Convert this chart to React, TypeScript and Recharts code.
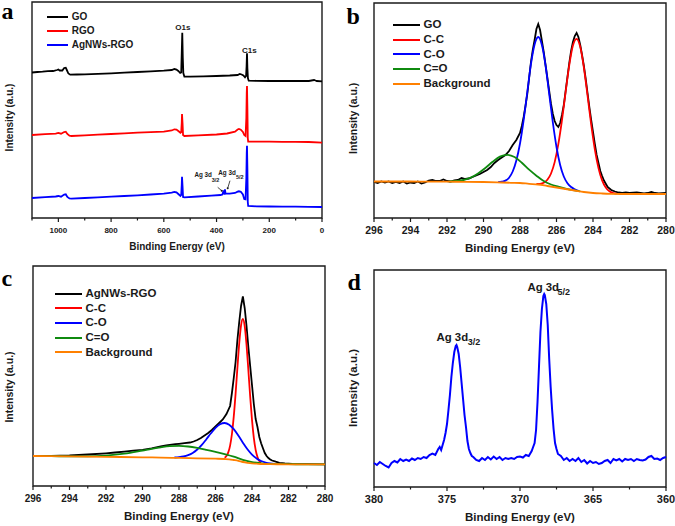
import React from 'react';
import { LineChart, Line, XAxis, YAxis, ReferenceArea, ReferenceDot, Legend } from 'recharts';

const FONT = 'Arial, "Liberation Sans", Helvetica, sans-serif';
const SERIF = '"Times New Roman", "Liberation Serif", serif';
const INK = '#1a1a1a';
const RED = '#ff0000';
const BLUE = '#0000ff';
const GREEN = '#0f8a0f';
const ORANGE = '#ff8000';

// ---- (a) survey spectra: [binding energy, offset intensity]
const surveyGO = [
  [1100, 145.5], [1080, 146], [1060, 146.3], [1040, 146.8], [1020, 147], [1005, 148], [1000, 148.5], [995, 147.5],
  [985, 147.5], [978, 150], [972, 150.3], [968, 148], [962, 144.5], [955, 143.3], [930, 143.5], [900, 143.7],
  [850, 144.2], [800, 144.7], [750, 145.3], [700, 146], [650, 146.6], [600, 147.3], [570, 148], [560, 149],
  [552, 148.5], [545, 147], [538, 145], [534, 145.5], [532, 165], [530, 185.3], [528, 160], [526, 145],
  [522, 141.3], [500, 141.4], [450, 141.7], [400, 142], [350, 142.5], [320, 143], [312, 144], [305, 143.5],
  [298, 142.5], [292, 140.7], [288, 142], [286, 152], [284.5, 164.7], [283, 150], [281, 140], [278, 137.3],
  [250, 137.2], [200, 137], [150, 137], [100, 137], [50, 137], [30, 138], [25, 137.5], [20, 137], [0, 136.7],
];
const surveyRGO = [
  [1100, 83], [1050, 83.8], [1010, 84.3], [1000, 85], [990, 84.3], [978, 86], [972, 86.3], [966, 84],
  [958, 82.3], [950, 82], [900, 82.7], [850, 83.3], [800, 84], [750, 84.7], [700, 85.3], [650, 85.8],
  [600, 86.3], [570, 87.5], [560, 88.7], [552, 88.5], [545, 87], [537, 85.3], [534, 86], [532, 95],
  [531, 104], [529, 95], [527, 83], [522, 82], [470, 82.6], [400, 83.5], [360, 84.5], [330, 86.3],
  [320, 88.5], [315, 89], [308, 88.3], [300, 86], [295, 83], [290, 82], [287, 100], [285.5, 125],
  [284.5, 132], [283, 110], [281.5, 80], [280, 76.3], [250, 76.3], [200, 76.3], [150, 76.2], [100, 76.2],
  [50, 76], [0, 75.3],
];
const surveyAg = [
  [1100, 20], [1050, 20.8], [1010, 21.5], [1000, 22], [990, 21.3], [978, 23.5], [972, 23.7], [966, 21],
  [958, 19.5], [950, 19.3], [900, 20], [850, 20.7], [800, 21.3], [750, 22], [700, 22.7], [650, 23.5],
  [600, 24.3], [570, 25.3], [560, 26], [552, 25.7], [545, 24], [537, 22], [534, 23], [532, 33],
  [531, 41.3], [529, 32], [527, 21], [522, 20.7], [470, 21.5], [420, 22.3], [385, 23], [378, 23.5],
  [375, 26], [374, 27.5], [372, 24.5], [370, 24.3], [368, 28.7], [366, 24.3], [350, 24.3], [330, 25],
  [320, 26.3], [315, 26.7], [308, 26.3], [300, 23.5], [295, 19], [290, 18.7], [287, 40], [285.5, 65],
  [284.5, 72.3], [283, 50], [281.5, 16], [280, 12], [250, 11.7], [200, 11.5], [150, 11.3], [100, 11.3],
  [50, 11.2], [0, 11],
];
const surveyTicks = [0, 100, 200, 300, 400, 500, 600, 700, 800, 900, 1000, 1100];
const surveyLabels = [0, 200, 400, 600, 800, 1000];
const surveyNames = ['GO', 'RGO', 'AgNWs-RGO'];

// ---- (b) GO C1s with fit
const goC1s = [
  [296, 36], [295.8, 35], [295.6, 36.5], [295.4, 35.5], [295.2, 36.5], [295, 35], [294.8, 36], [294.6, 35],
  [294.4, 36.5], [294.2, 34.5], [294, 35.5], [293.8, 35], [293.6, 36.5], [293.4, 34.5], [293.2, 35.5], [293, 37.5],
  [292.8, 38], [292.6, 37], [292.4, 37], [292.2, 38.5], [292, 37], [291.8, 36.5], [291.6, 37.5], [291.4, 38],
  [291.2, 40], [291, 39], [290.8, 39.5], [290.6, 41], [290.4, 42.5], [290.2, 44], [290, 46], [289.8, 48],
  [289.6, 51], [289.4, 55], [289.2, 58], [289, 60.5], [288.8, 63], [288.6, 67], [288.4, 73], [288.2, 78],
  [288, 85], [287.9, 92], [287.8, 101], [287.7, 112], [287.6, 124], [287.5, 140], [287.4, 156], [287.3, 168],
  [287.2, 178], [287.1, 189], [287, 194], [286.9, 188], [286.8, 177], [286.7, 166], [286.6, 153], [286.5, 140],
  [286.4, 127], [286.3, 114], [286.2, 104], [286.1, 97], [286, 93], [285.9, 91], [285.8, 95], [285.7, 103],
  [285.6, 113], [285.5, 127], [285.4, 141], [285.3, 155], [285.2, 167], [285.1, 176], [285, 182], [284.9, 185],
  [284.8, 181], [284.7, 173], [284.6, 163], [284.5, 152], [284.4, 139], [284.3, 125], [284.2, 111], [284.1, 98],
  [284, 86], [283.9, 74], [283.8, 63], [283.7, 55], [283.6, 47], [283.5, 42], [283.4, 37.5], [283.2, 31],
  [283, 28], [282.8, 26.5], [282.6, 25.5], [282.4, 25], [282.2, 25.5], [282, 25], [281.6, 25.5], [281.2, 24.5],
  [281, 25], [280.8, 26], [280.6, 25], [280.4, 24.5], [280, 25],
];
const goCC = [
  [287.1, 34], [286.9, 34.2], [286.7, 35.2], [286.5, 38.2], [286.3, 44.5], [286.1, 55.9], [285.9, 73.8],
  [285.7, 97.9], [285.5, 126], [285.3, 152.9], [285.1, 172.4], [284.9, 179.2], [284.7, 171.2], [284.5, 150.5],
  [284.3, 122.6], [284.1, 93.5], [283.9, 68.6], [283.7, 49.9], [283.5, 37.6], [283.3, 30.5], [283.1, 26.7],
  [282.9, 25], [282.7, 24.3],
];
const goCO = [
  [289.2, 35.8], [289, 36.3], [288.8, 37.4], [288.6, 40.3], [288.4, 46.5], [288.2, 57.5], [288, 74.5],
  [287.8, 98], [287.6, 126], [287.4, 154], [287.2, 173.6], [287, 181], [286.8, 173], [286.6, 152.5],
  [286.4, 124], [286.2, 95.5], [286, 71], [285.8, 53], [285.6, 41.5], [285.4, 34.8], [285.2, 31],
  [285, 28.8], [284.8, 27.2],
];
const goCdO = [
  [291.9, 36.5], [291.5, 37], [291.1, 38], [290.7, 40.4], [290.3, 44.6], [289.9, 50], [289.5, 56.2],
  [289.1, 61.4], [288.7, 63.2], [288.3, 61], [287.9, 55.3], [287.5, 48.3], [287.1, 42.3], [286.7, 36.9],
  [286.3, 33.5], [285.9, 31.3], [285.5, 29.3], [285.1, 27.8], [284.7, 26.6],
];
const goBg = [
  [296, 36.5], [295, 36.5], [294, 36.5], [293, 36.4], [292, 36.3], [291, 36.2], [290, 36], [289, 35.5],
  [288.5, 35.2], [288, 35], [287.5, 34.2], [287, 33.5], [286.5, 32], [286, 30.5], [285.5, 29], [285, 27.5],
  [284.5, 26], [284, 25], [283.5, 24.5], [283, 24.2], [282, 24], [281, 24], [280, 24],
];

// ---- (c) AgNWs-RGO C1s with fit
const agC1s = [
  [296, 30], [295, 30.2], [294, 30.6], [293, 31.5], [292, 32.7], [291.5, 33.5], [291, 34.3], [290.5, 35.3],
  [290, 36.2], [289.5, 37.6], [289, 39.5], [288.7, 40.5], [288.5, 41.2], [288.2, 41.8], [288, 42.2], [287.7, 42.8],
  [287.4, 43.5], [287.2, 44.5], [287, 46], [286.8, 48], [286.6, 50.5], [286.4, 53], [286.2, 56], [286, 59.5],
  [285.8, 63], [285.6, 66.5], [285.4, 72], [285.2, 80], [285.1, 93], [285, 108], [284.9, 124], [284.8, 146],
  [284.7, 164], [284.6, 180], [284.5, 189.5], [284.4, 178], [284.3, 160], [284.2, 139], [284.1, 120], [284, 101],
  [283.9, 82], [283.8, 67], [283.7, 59], [283.6, 49], [283.5, 42.7], [283.4, 37.8], [283.3, 33], [283.2, 30],
  [283.1, 28], [283, 26.6], [282.9, 25.5], [282.7, 24.3], [282.5, 23.2], [282.2, 22.5], [281.8, 22], [281, 21.8],
  [280, 21.7],
];
const agCC = [
  [285.5, 28.3], [285.4, 30], [285.3, 33.6], [285.2, 40.4], [285.1, 52], [285, 69.3], [284.9, 92.1],
  [284.8, 118], [284.7, 142.6], [284.6, 160.7], [284.5, 167], [284.4, 160], [284.3, 141.3], [284.2, 116],
  [284.1, 89.6], [284, 66.1], [283.9, 48.2], [283.8, 36.2], [283.7, 29], [283.6, 25.1], [283.5, 23.2],
];
const agCO = [
  [288.25, 28.5], [288, 28.8], [287.75, 29.5], [287.5, 30.9], [287.25, 33.1], [287, 36.5], [286.75, 41.1],
  [286.5, 46.8], [286.25, 52.7], [286, 58.1], [285.75, 61.8], [285.5, 63], [285.25, 61.3], [285, 56.8],
  [284.75, 50.5], [284.5, 43.3], [284.25, 36.7], [284, 31.4], [283.75, 27.6], [283.5, 25], [283.25, 23.4],
  [283, 22.5], [282.75, 22.1],
];
const agCdO = [
  [296, 30], [295, 29.8], [294, 29.7], [293, 29.7], [292, 30.4], [291, 32.3], [290, 35.5], [289.5, 37.2],
  [289, 38.7], [288.5, 39.8], [288, 40.1], [287.5, 39.5], [287, 38.1], [286.5, 36.2], [286, 34.1], [285.5, 31.9],
  [285, 29.3], [284.5, 26.1], [284, 23.8], [283.5, 22.7], [283, 22.1], [282, 21.8], [281, 21.7], [280, 21.7],
];
const agBg = [
  [296, 30], [294, 29.6], [292, 29.2], [290, 28.7], [289, 28.4], [288, 28.1], [287, 27.7], [286, 27.3],
  [285.5, 27], [285.25, 26.7], [285, 26], [284.75, 25.2], [284.5, 24], [284.25, 23.2], [284, 22.6],
  [283.75, 22.3], [283.5, 22], [283, 21.8], [282, 21.7], [280, 21.7],
];
const c1sTicks = [280, 281, 282, 283, 284, 285, 286, 287, 288, 289, 290, 291, 292, 293, 294, 295, 296];
const c1sLabels = [280, 282, 284, 286, 288, 290, 292, 294, 296];
const fitNames = ['C-C', 'C-O', 'C=O', 'Background'];

// ---- (d) Ag 3d
const ag3d = [
  [380, 24], [379.8, 22], [379.6, 25], [379.4, 23], [379.2, 21], [379, 19.5], [378.8, 24], [378.6, 26],
  [378.4, 24.5], [378.2, 28], [378, 26], [377.8, 27.5], [377.6, 26], [377.4, 28.5], [377.2, 27], [377, 29],
  [376.8, 28], [376.6, 30], [376.4, 29], [376.2, 32], [376, 33.5], [375.8, 32], [375.6, 38], [375.5, 40],
  [375.4, 37], [375.3, 42], [375.2, 47], [375.1, 54], [375, 63], [374.9, 77], [374.8, 92], [374.7, 110],
  [374.6, 124], [374.5, 135], [374.4, 141], [374.35, 142], [374.3, 140], [374.2, 133], [374.1, 120], [374, 104],
  [373.9, 88], [373.8, 72], [373.7, 60], [373.6, 46], [373.5, 38], [373.4, 34], [373.3, 31], [373.2, 30],
  [373, 27], [372.8, 26], [372.6, 29], [372.4, 27], [372.2, 30], [372, 27.5], [371.8, 30.5], [371.6, 28],
  [371.4, 30], [371.2, 27], [371, 29], [370.8, 28], [370.6, 29], [370.4, 28], [370.2, 30], [370, 30.5],
  [369.8, 29.5], [369.6, 32], [369.4, 31], [369.2, 36], [369.1, 40], [369, 44], [368.9, 57], [368.8, 85],
  [368.7, 120], [368.6, 155], [368.5, 178], [368.4, 191], [368.34, 193], [368.3, 192], [368.2, 183], [368.1, 162],
  [368, 128], [367.9, 100], [367.8, 77], [367.7, 58], [367.6, 44], [367.5, 38], [367.4, 33], [367.2, 31],
  [367, 27], [366.8, 29], [366.6, 26], [366.4, 28], [366.2, 26], [366, 29], [365.8, 25], [365.6, 27],
  [365.4, 23.5], [365.2, 26], [365, 24], [364.8, 25], [364.6, 23], [364.4, 24], [364.2, 26], [364, 27],
  [363.8, 24], [363.6, 28], [363.4, 26.5], [363.2, 28], [363, 25.5], [362.8, 28], [362.6, 27], [362.4, 28],
  [362.2, 26], [362, 28], [361.8, 27], [361.6, 26.5], [361.4, 27.5], [361.2, 30], [361, 31], [360.8, 28],
  [360.6, 28.5], [360.4, 27], [360.2, 29], [360, 30],
];
const ag3dTicks = [360, 362.5, 365, 367.5, 370, 372.5, 375, 377.5, 380];
const ag3dLabels = [360, 365, 370, 375, 380];

const pts = (arr: number[][]) => arr.map(([x, y]) => ({ x, y }));

function bottomTick(labels: number[], fontSize: number, dy: number) {
  return (props: any) => {
    const { x, y, payload } = props;
    const major = labels.includes(payload.value);
    return (
      <g>
        <line x1={x} x2={x} y1={y} y2={y + (major ? 4 : 2.5)} stroke={INK} strokeWidth={1.2} />
        {major && (
          <text x={x} y={y + dy} textAnchor="middle" fontSize={fontSize} fontWeight="bold" fontFamily={FONT} fill={INK}>
            {payload.value}
          </text>
        )}
      </g>
    );
  };
}

function xTitle(fontSize: number, dy: number) {
  return (props: any) => {
    const vb = props.viewBox;
    return (
      <text x={vb.x + vb.width / 2} y={vb.y + dy} textAnchor="middle" fontSize={fontSize} fontWeight="bold" fontFamily={FONT} fill={INK}>
        Binding Energy (eV)
      </text>
    );
  };
}

function yTitle(fontSize: number, cx: number, cy: number) {
  return (props: any) => {
    const vb = props.viewBox;
    const x = vb.x + cx;
    const y = cy;
    return (
      <text x={x} y={y} transform={`rotate(-90, ${x}, ${y})`} textAnchor="middle" dominantBaseline="central"
        fontSize={fontSize} fontWeight="bold" fontFamily={FONT} fill={INK}>
        Intensity (a.u.)
      </text>
    );
  };
}

// legend in the order the series are listed in the figure
function legendBox(order: string[], fontSize: number, lineLen: number, rowH: number, gap: number) {
  return (props: any) => {
    const items = [...(props.payload || [])].sort((a: any, b: any) => order.indexOf(a.value) - order.indexOf(b.value));
    return (
      <div style={{ fontFamily: FONT, fontWeight: 'bold', fontSize, color: INK, lineHeight: 1 }}>
        {items.map((p: any) => (
          <div key={p.value} style={{ display: 'flex', alignItems: 'center', height: rowH, whiteSpace: 'nowrap' }}>
            <span style={{ display: 'inline-block', width: lineLen, height: 2, background: p.color, marginRight: gap }} />
            <span>{p.value}</span>
          </div>
        ))}
      </div>
    );
  };
}

function note(text: string, fontSize: number, dx: number, dy: number) {
  return (props: any) => {
    const vb = props.viewBox;
    return (
      <text x={vb.x + dx} y={vb.y + dy} textAnchor="middle" fontSize={fontSize} fontWeight="bold" fontFamily={FONT} fill={INK}>
        {text}
      </text>
    );
  };
}

// "Ag 3d" with a subscript, placed relative to the anchor point
function agNote(sub: string, fs: number, subFs: number, mainDx: number, mainDy: number, subDx: number, subDy: number, arrow?: number[]) {
  return (props: any) => {
    const vb = props.viewBox;
    const x = vb.x;
    const y = vb.y;
    return (
      <g fontFamily={FONT} fontWeight="bold" fill={INK}>
        <text x={x + mainDx} y={y + mainDy} fontSize={fs}>Ag 3d</text>
        <text x={x + subDx} y={y + subDy} fontSize={subFs}>{sub}</text>
        {arrow && (
          <g>
            <line x1={x + arrow[0]} y1={y + arrow[1]} x2={x + arrow[2]} y2={y + arrow[3]} stroke={INK} strokeWidth={0.8} />
            <circle cx={x + arrow[2]} cy={y + arrow[3]} r={1} fill={INK} />
          </g>
        )}
      </g>
    );
  };
}

const lineProps = { dot: false, activeDot: false, isAnimationActive: false, strokeWidth: 1.8 } as const;

function SurveyPanel() {
  return (
    <LineChart width={337} height={263} margin={{ top: 2, right: 15, bottom: 5, left: 0 }}>
      <XAxis type="number" dataKey="x" domain={[0, 1100]} reversed ticks={surveyTicks} interval={0}
        tickSize={0} tickMargin={0} axisLine={false} tickLine={false} height={40}
        tick={bottomTick(surveyLabels, 8, 15)} label={{ content: xTitle(10, 31.5) }} />
      <YAxis type="number" domain={[0, 216]} width={32} axisLine={false} tickLine={false} tick={false}
        label={{ content: yTitle(10, 9.5, 117.5) }} />
      <ReferenceArea x1={0} x2={1100} y1={0} y2={216} fill="none" stroke={INK} strokeWidth={1.4} />
      <Legend layout="vertical" align="center" verticalAlign="middle" wrapperStyle={{ left: 47, top: 9.6 }}
        content={legendBox(surveyNames, 10, 21, 14.2, 3.7)} />
      <Line {...lineProps} data={pts(surveyGO)} dataKey="y" name="GO" stroke="#000" type="linear" />
      <Line {...lineProps} data={pts(surveyRGO)} dataKey="y" name="RGO" stroke={RED} type="linear" />
      <Line {...lineProps} data={pts(surveyAg)} dataKey="y" name="AgNWs-RGO" stroke={BLUE} type="linear" />
      <ReferenceDot x={528} y={190.7} r={0} fill="none" stroke="none" label={{ content: note('O1s', 8, 0, 3) }} />
      <ReferenceDot x={275.7} y={168} r={0} fill="none" stroke="none" label={{ content: note('C1s', 8, 0, 3) }} />
      <ReferenceDot x={374} y={27.5} r={0} fill="none" stroke="none"
        label={{ content: agNote('3/2', 6.3, 5.5, -29, -13.5, -11.7, -8.5, [-5.7, -3.2, -1.7, 0.2]) }} />
      <ReferenceDot x={368} y={28.7} r={0} fill="none" stroke="none"
        label={{ content: agNote('5/2', 6.3, 5.5, -6.7, -14.3, 11, -10.6, [5, -8.6, 2.7, -1]) }} />
    </LineChart>
  );
}

type FitProps = {
  total: number[][];
  totalName: string;
  cc: number[][];
  co: number[][];
  cdo: number[][];
  bg: number[][];
  top: number;
  right: number;
  bottom: number;
  yMax: number;
  yWidth: number;
  yCx: number;
  yCy: number;
  legendLeft: number;
  legendTop: number;
  tickFs: number;
};

function FitPanel(p: FitProps) {
  return (
    <LineChart width={p.yWidth + 292 + p.right} height={263} margin={{ top: p.top, right: p.right, bottom: p.bottom, left: 0 }}>
      <XAxis type="number" dataKey="x" domain={[280, 296]} reversed ticks={c1sTicks} interval={0}
        tickSize={0} tickMargin={0} axisLine={false} tickLine={false} height={40}
        tick={bottomTick(c1sLabels, p.tickFs, 16)} label={{ content: xTitle(11.5, 34) }} />
      <YAxis type="number" domain={[0, p.yMax]} width={p.yWidth} axisLine={false} tickLine={false} tick={false}
        label={{ content: yTitle(10.5, p.yCx, p.yCy) }} />
      <ReferenceArea x1={280} x2={296} y1={0} y2={p.yMax} fill="none" stroke={INK} strokeWidth={1.4} />
      <Legend layout="vertical" align="center" verticalAlign="middle" wrapperStyle={{ left: p.legendLeft, top: p.legendTop }}
        content={legendBox([p.totalName, ...fitNames], 11.5, 27, 14.7, 3.5)} />
      <Line {...lineProps} data={pts(p.total)} dataKey="y" name={p.totalName} stroke="#000" type="linear" />
      <Line {...lineProps} data={pts(p.cc)} dataKey="y" name="C-C" stroke={RED} type="monotone" />
      <Line {...lineProps} data={pts(p.co)} dataKey="y" name="C-O" stroke={BLUE} type="monotone" />
      <Line {...lineProps} data={pts(p.cdo)} dataKey="y" name="C=O" stroke={GREEN} type="monotone" />
      <Line {...lineProps} data={pts(p.bg)} dataKey="y" name="Background" stroke={ORANGE} type="monotone" />
    </LineChart>
  );
}

function AgPanel() {
  return (
    <LineChart width={338} height={263} margin={{ top: 7, right: 9, bottom: 0, left: 0 }}>
      <XAxis type="number" dataKey="x" domain={[360, 380]} reversed ticks={ag3dTicks} interval={0}
        tickSize={0} tickMargin={0} axisLine={false} tickLine={false} height={39}
        tick={bottomTick(ag3dLabels, 11, 16)} label={{ content: xTitle(11.5, 33.7) }} />
      <YAxis type="number" domain={[0, 217]} width={37} axisLine={false} tickLine={false} tick={false}
        label={{ content: yTitle(11.5, 16, 125) }} />
      <ReferenceArea x1={360} x2={380} y1={0} y2={217} fill="none" stroke={INK} strokeWidth={1.4} />
      <Line {...lineProps} strokeWidth={2} data={pts(ag3d)} dataKey="y" name="Ag 3d" stroke={BLUE} type="linear" />
      <ReferenceDot x={374.35} y={142} r={0} fill="none" stroke="none"
        label={{ content: agNote('3/2', 11.4, 9, -20, -4.5, 11.2, -0.3) }} />
      <ReferenceDot x={368.34} y={193.3} r={0} fill="none" stroke="none"
        label={{ content: agNote('5/2', 11.4, 9, -16.8, -2.4, 13.2, 1) }} />
    </LineChart>
  );
}

export default function App() {
  return (
    <div style={{ position: 'absolute', left: 0, top: 0, width: 675, height: 526, background: '#fff', overflow: 'hidden' }}>
      <div style={{ position: 'absolute', left: 0, top: 0 }}>
        <SurveyPanel />
      </div>
      <div style={{ position: 'absolute', left: 337, top: 0 }}>
        <FitPanel total={goC1s} totalName="GO" cc={goCC} co={goCO} cdo={goCdO} bg={goBg}
          top={3} right={9} bottom={5} yMax={215} yWidth={37} yCx={16.5} yCy={118.3}
          legendLeft={56} legendTop={17.6} tickFs={10.5} />
      </div>
      <div style={{ position: 'absolute', left: 0, top: 263 }}>
        <FitPanel total={agC1s} totalName="AgNWs-RGO" cc={agCC} co={agCO} cdo={agCdO} bg={agBg}
          top={3} right={12} bottom={0} yMax={220} yWidth={33} yCx={8.5} yCy={124}
          legendLeft={55} legendTop={23.4} tickFs={10} />
      </div>
      <div style={{ position: 'absolute', left: 337, top: 263 }}>
        <AgPanel />
      </div>
      <svg width={675} height={526} style={{ position: 'absolute', left: 0, top: 0, pointerEvents: 'none' }}>
        <g fontFamily={SERIF} fontWeight="bold" fontSize={24} fill="#000">
          <text x={1.5} y={19}>a</text>
          <text x={346.5} y={24}>b</text>
          <text x={1.5} y={286.3}>c</text>
          <text x={347.5} y={289.7}>d</text>
        </g>
      </svg>
    </div>
  );
}
